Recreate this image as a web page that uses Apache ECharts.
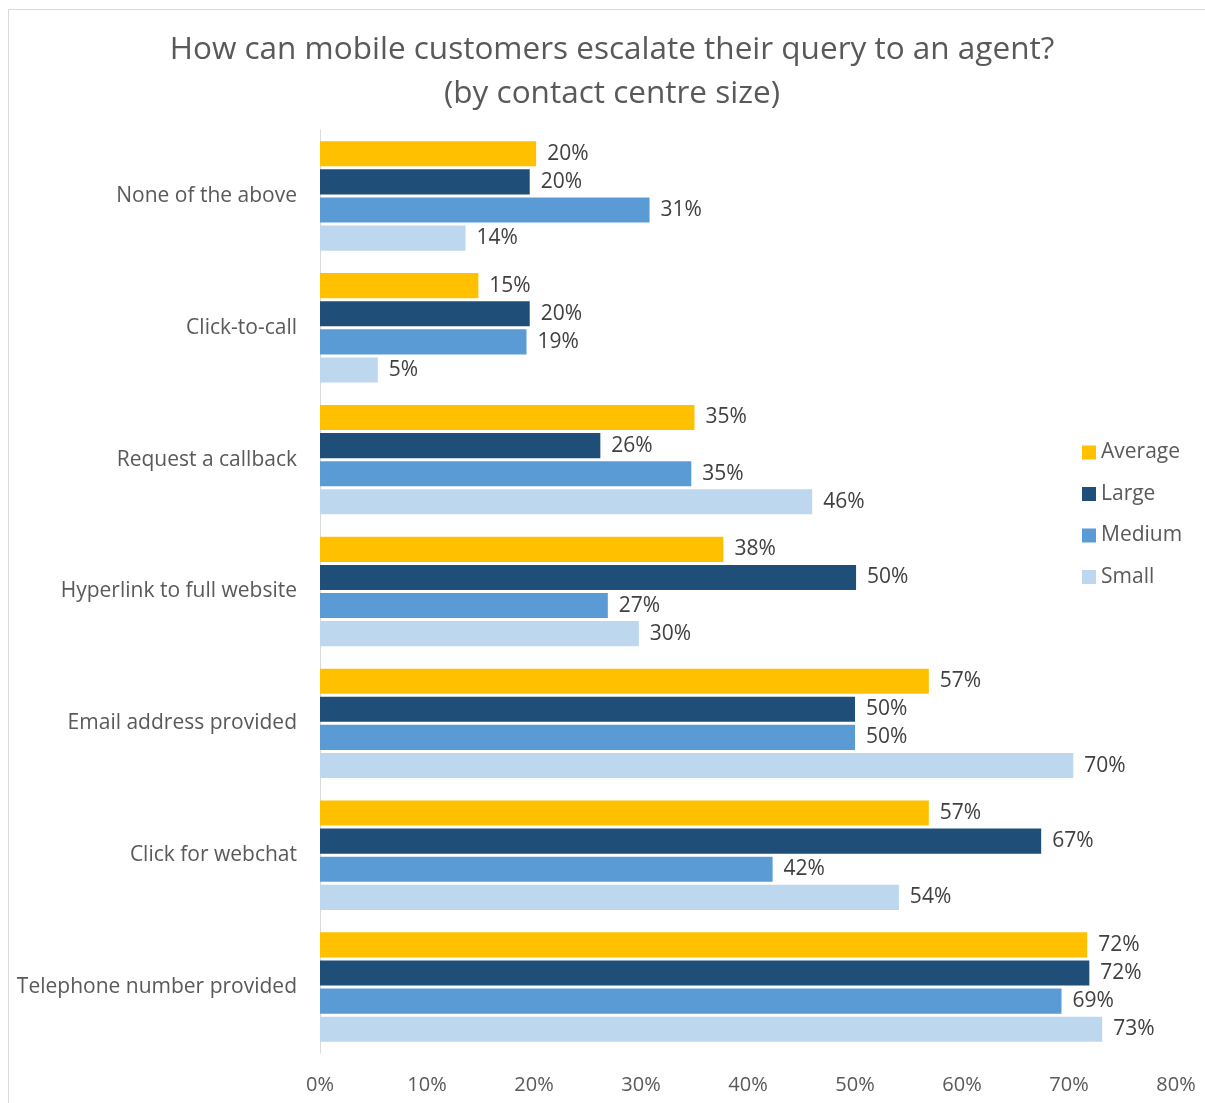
<!DOCTYPE html>
<html>
<head>
<meta charset="utf-8">
<script src="https://cdn.jsdelivr.net/npm/echarts@6/dist/echarts.min.js"></script>
<style>html,body{margin:0;padding:0;background:#fff}#c{width:1205px;height:1103px}</style>
</head>
<body>
<div id="c"></div>
<script>
// Categories listed top to bottom as in the picture
const categories = ['None of the above','Click-to-call','Request a callback','Hyperlink to full website','Email address provided','Click for webchat','Telephone number provided'];
const seriesNames = ['Average','Large','Medium','Small'];
const average = [20.2, 14.8, 35.0, 37.7, 56.9, 56.9, 71.7];
const large   = [19.6, 19.6, 26.2, 50.1, 50.0, 67.4, 71.9];
const medium  = [30.8, 19.3, 34.7, 26.9, 50.0, 42.3, 69.3];
const small   = [13.6, 5.4, 46.0, 29.8, 70.4, 54.1, 73.1];
const xTicks = [0,10,20,30,40,50,60,70,80];

const colors = ['#FFC000','#1F4E79','#5B9BD5','#BDD7EE'];
const FONT = 'Open Sans';
const chart = echarts.init(document.getElementById('c'));
const values = [average, large, medium, small];
chart.setOption({
  animation:false,
  textStyle:{fontFamily:FONT},
  title:{
    text:'How can mobile customers escalate their query to an agent?\n(by contact centre size)',
    left:607, top:23, textAlign:'center',
    textStyle:{fontFamily:FONT,fontSize:31.5,fontWeight:'normal',color:'#595959',lineHeight:44}
  },
  graphic:[{type:'rect',shape:{x:8.5,y:9.5,width:1210,height:1110},style:{fill:'none',stroke:'#d9d9d9',lineWidth:1},silent:true}],
  legend:{
    orient:'vertical', left:1077, top:437,
    itemWidth:14,itemHeight:14,itemGap:20.5,
    icon:'rect',
    data:seriesNames,
    textStyle:{fontFamily:FONT,fontSize:21,color:'#595959',lineHeight:21}
  },
  grid:{left:320,right:29,top:130,bottom:50,containLabel:false},
  xAxis:{
    type:'value',min:xTicks[0],max:xTicks[xTicks.length-1],interval:10,
    axisLine:{show:false},axisTick:{show:false},splitLine:{show:false},
    axisLabel:{formatter:v=>v+'%',fontFamily:FONT,fontSize:20,color:'#595959',margin:22}
  },
  yAxis:{
    type:'category',data:categories,inverse:true,
    axisLine:{show:true,lineStyle:{color:'#d9d9d9',width:1}},
    axisTick:{show:false},
    axisLabel:{fontFamily:FONT,fontSize:21,color:'#595959',margin:23}
  },
  series:seriesNames.map((n,i)=>({
    name:n,type:'bar',data:values[i],
    itemStyle:{color:colors[i]},
    barGap:'12%',barCategoryGap:'17%',
    label:{show:true,position:'right',distance:11,formatter:p=>Math.round(p.value)+'%',fontFamily:FONT,fontSize:21,color:'#404040'}
  }))
});
</script>
</body>
</html>
